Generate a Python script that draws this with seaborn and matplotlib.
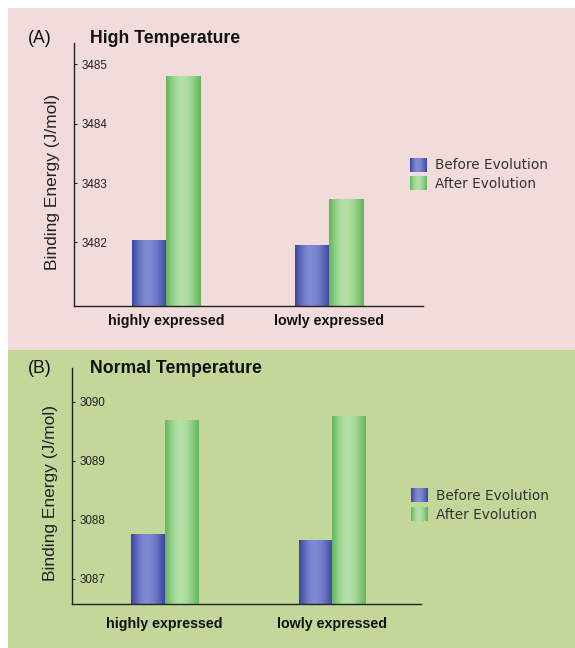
import numpy as np
import pandas as pd
import matplotlib
matplotlib.use('Agg')
import matplotlib.pyplot as plt
from matplotlib.colors import LinearSegmentedColormap, Normalize
from matplotlib.patches import Rectangle
from matplotlib.legend_handler import HandlerBase
from matplotlib.image import BboxImage
from matplotlib.transforms import Bbox, TransformedBbox
import seaborn as sns

# Values
categories = ['highly expressed', 'lowly expressed']
stages = ['Before Evolution', 'After Evolution']
high_before = [3482.03, 3481.95]
high_after = [3484.79, 3482.73]
normal_before = [3087.74, 3087.65]
normal_after = [3089.67, 3089.75]
high_ticks = [3482, 3483, 3484, 3485]
normal_ticks = [3087, 3088, 3089, 3090]

sns.set_style('white')
plt.rcParams['font.family'] = ['Liberation Sans', 'DejaVu Sans']

W, H = 575, 648
fig = plt.figure(figsize=(W / 100, H / 100), dpi=100)


def fx(px):
    return px / W


def fy(py):
    return 1 - py / H


# Panel backgrounds
fig.add_artist(Rectangle((fx(8), fy(350)), 1 - fx(8), fy(8) - fy(350), transform=fig.transFigure,
                         facecolor='#f2dcdb', edgecolor='none', zorder=-10))
fig.add_artist(Rectangle((fx(8), 0), 1 - fx(8), fy(350), transform=fig.transFigure,
                         facecolor='#c4d79b', edgecolor='none', zorder=-10))

bar_colors = ['#5a63b8', '#8fcf82']
gradients = [('#3b44a0', '#7f8ad3'), ('#62b65a', '#b2e0a6')]


def cylinder(dark, light):
    t = np.linspace(0, 1, 80)
    c = 0.45
    p = np.where(t < c, t / c, (1 - t) / (1 - c))
    prof = np.sin(np.pi / 2 * p)
    cmap = LinearSegmentedColormap.from_list('cyl', [dark, light])
    return prof[np.newaxis, :], cmap


class GradientHandler(HandlerBase):
    # legend key drawn with the same cylinder shading as the bars
    def __init__(self, dark, light):
        super().__init__()
        self.grad, self.cmap = cylinder(dark, light)

    def create_artists(self, legend, orig_handle, xdescent, ydescent, width, height, fontsize, trans):
        bb = TransformedBbox(Bbox.from_bounds(-xdescent, -ydescent, width, height), trans)
        img = BboxImage(bb, cmap=self.cmap, norm=Normalize(0, 1), interpolation='bilinear')
        img.set_data(self.grad)
        return [img]


def draw_panel(ax, before, after, ticks, ylim, xlim, width, xpad):
    df = pd.DataFrame({'group': categories * 2,
                       'stage': [stages[0]] * 2 + [stages[1]] * 2,
                       'energy': before + after})
    sns.barplot(data=df, x='group', y='energy', hue='stage', palette=bar_colors,
                width=width, saturation=1, errorbar=None, linewidth=0, ax=ax)
    # cylinder shading on each bar
    for bars, (dark, light) in zip(ax.containers, gradients):
        grad, cmap = cylinder(dark, light)
        for bar in bars:
            x0, y0 = bar.get_x(), bar.get_y()
            ax.imshow(grad, cmap=cmap, vmin=0, vmax=1, aspect='auto', interpolation='bilinear',
                      extent=[x0, x0 + bar.get_width(), y0, y0 + bar.get_height()],
                      zorder=bar.get_zorder() + 0.1)
    ax.set_xlim(xlim)
    ax.set_ylim(ylim)
    ax.set_facecolor('none')
    for s in ['top', 'right']:
        ax.spines[s].set_visible(False)
    for s in ['left', 'bottom']:
        ax.spines[s].set_color('#222222')
        ax.spines[s].set_linewidth(1.0)
    ax.set_yticks(ticks)
    ax.set_yticklabels([str(t) for t in ticks], fontsize=8.4, color='#222222')
    ax.tick_params(axis='y', direction='in', length=2.2, width=0.8, pad=-5.8, left=True)
    for lab in ax.get_yticklabels():
        lab.set_horizontalalignment('left')
    ax.tick_params(axis='x', length=0, pad=xpad)
    for lab in ax.get_xticklabels():
        lab.set_fontweight('bold')
        lab.set_fontsize(10.3)
        lab.set_color('#111111')
    ax.set_xlabel('')
    ax.set_ylabel('Binding Energy (J/mol)', fontsize=12.5, color='#222222')
    ax.yaxis.set_label_coords(-0.04, 0.47)
    handles, labels = ax.get_legend_handles_labels()
    hmap = {hd: GradientHandler(*g) for hd, g in zip(handles, gradients)}
    return handles, labels, hmap


legend_kw = dict(loc='upper left', bbox_transform=fig.transFigure, frameon=False, borderpad=0,
                 borderaxespad=0, prop={'family': 'DejaVu Sans', 'size': 9.8}, handlelength=1.18,
                 handleheight=1.18, handletextpad=0.66, labelspacing=0.3, labelcolor='#333333')

ax1 = fig.add_axes([fx(74), fy(306), (423 - 74) / W, (306 - 43) / H])
h, l, hm = draw_panel(ax1, high_before, high_after, high_ticks, (3480.93, 3485.36), (-0.564, 1.577), 0.42, 5.9)
ax1.legend(h, l, bbox_to_anchor=(fx(410), fy(158)), handler_map=hm, **legend_kw)

ax2 = fig.add_axes([fx(72), fy(604.3), (421 - 72) / W, (604.3 - 368) / H])
h, l, hm = draw_panel(ax2, normal_before, normal_after, normal_ticks, (3086.57, 3090.57), (-0.554, 1.532), 0.40, 8.8)
ax2.legend(h, l, bbox_to_anchor=(fx(411), fy(488.5)), handler_map=hm, **legend_kw)

# Panel letters and titles
fig.text(fx(28), fy(42.7), '(A)', fontsize=12.7, va='baseline', ha='left', color='#111111')
fig.text(fx(90), fy(42.7), 'High Temperature', fontsize=12.7, fontweight='bold', va='baseline', ha='left', color='#111111')
fig.text(fx(28), fy(373.5), '(B)', fontsize=12.7, va='baseline', ha='left', color='#111111')
fig.text(fx(90), fy(373.5), 'Normal Temperature', fontsize=12.7, fontweight='bold', va='baseline', ha='left', color='#111111')

fig.savefig('out.png', dpi=100, facecolor='white')
